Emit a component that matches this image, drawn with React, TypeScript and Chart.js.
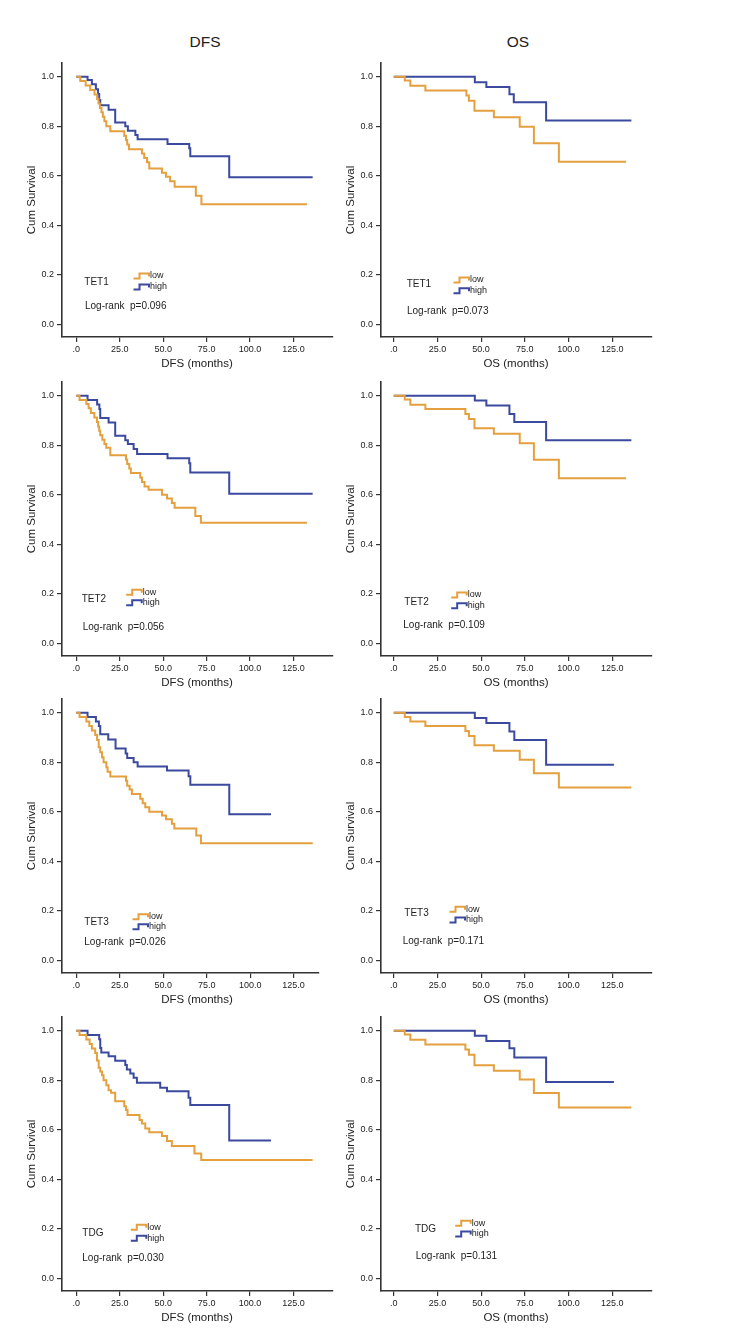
import React, { useEffect, useRef } from "react";
import { Chart, registerables } from "chart.js";

Chart.register(...registerables);

const FONT = '"Liberation Sans", Arial, Helvetica, sans-serif';
const LOW_COLOR = "#E4A03E";
const HIGH_COLOR = "#3B4A9E";
const INK = "#222222";

// ---------- data ----------
const xTickValues = [0, 25, 50, 75, 100, 125];
const yTickValues = [0, 0.2, 0.4, 0.6, 0.8, 1.0];
const columnTitles = ["DFS", "OS"];
const xAxisTitles = ["DFS (months)", "OS (months)"];
const genes = ["TET1", "TET2", "TET3", "TDG"];
const dfsPValues = ["0.096", "0.056", "0.026", "0.030"];
const osPValues = ["0.073", "0.109", "0.171", "0.131"];
const groupLabels = ["low", "high"];

// [months, cumulative survival]
const dfsTet1Low = [[0,1],[2.3,0.982],[5.4,0.964],[8,0.946],[10.5,0.928],[12,0.91],[12.8,0.892],[13.6,0.874],[14.5,0.856],[15.3,0.838],[16.2,0.82],[17.3,0.8],[19.6,0.78],[27.6,0.762],[28.6,0.744],[29.3,0.726],[30.3,0.707],[37.8,0.69],[39.1,0.672],[40.7,0.655],[42,0.63],[49.3,0.612],[51.6,0.596],[54,0.578],[56.6,0.556],[68.8,0.52],[72,0.485],[132.7,0.485]];
const dfsTet1High = [[0,1],[6.5,0.986],[9,0.969],[11.3,0.949],[12.5,0.93],[13.2,0.906],[13.8,0.885],[18.6,0.866],[22.4,0.815],[28.2,0.8],[29.7,0.782],[34,0.765],[35.3,0.747],[52.5,0.728],[65,0.711],[65.6,0.679],[88,0.594],[136,0.594]];
const osTet1Low = [[0,1],[6.3,0.984],[9.5,0.963],[18.1,0.944],[41.6,0.924],[43,0.903],[46.2,0.862],[57.3,0.836],[72.1,0.798],[80.2,0.731],[94.5,0.657],[133,0.657]];
const osTet1High = [[0,1],[46.4,0.977],[53,0.958],[66.2,0.929],[68.7,0.897],[87.2,0.823],[136,0.823]];

const dfsTet2Low = [[0,1],[1.9,0.982],[5.8,0.966],[7.1,0.949],[8.4,0.93],[10.4,0.912],[11.9,0.894],[12.6,0.876],[13.2,0.858],[13.8,0.84],[15,0.822],[16.2,0.805],[17.3,0.79],[19.6,0.76],[28.6,0.742],[29.3,0.724],[30.5,0.706],[31.4,0.688],[36.8,0.67],[37.8,0.652],[39.3,0.634],[41.6,0.62],[49.3,0.6],[52.2,0.585],[55,0.567],[56.6,0.548],[68.5,0.515],[71.7,0.487],[132.7,0.487]];
const dfsTet2High = [[0,1],[6.5,0.982],[12,0.964],[13.3,0.946],[13.8,0.91],[18.6,0.892],[22.4,0.838],[28.2,0.82],[29.7,0.805],[33,0.785],[35,0.765],[52.5,0.747],[65,0.727],[65.6,0.69],[88,0.604],[136,0.604]];
const osTet2Low = [[0,1],[6.3,0.984],[9.5,0.963],[18.1,0.946],[41,0.926],[43,0.906],[46.2,0.868],[57.3,0.846],[72.1,0.808],[80.2,0.741],[94.5,0.667],[133,0.667]];
const osTet2High = [[0,1],[46.4,0.98],[53,0.96],[66.2,0.926],[69,0.894],[87.2,0.82],[136,0.82]];

const dfsTet3Low = [[0,1],[1.9,0.982],[5.8,0.964],[7.5,0.946],[9,0.928],[10.9,0.91],[12,0.89],[12.9,0.86],[13.8,0.84],[14.8,0.82],[15.7,0.8],[17.3,0.78],[18,0.762],[19.6,0.742],[28.6,0.725],[29.3,0.705],[30.7,0.69],[32,0.672],[36.8,0.653],[38.2,0.635],[39.7,0.618],[42,0.6],[49.3,0.585],[51.6,0.57],[55,0.552],[56.4,0.533],[69,0.505],[71.7,0.473],[136,0.473]];
const dfsTet3High = [[0,1],[6.5,0.982],[11.3,0.964],[13,0.946],[13.8,0.913],[18.4,0.892],[22.6,0.855],[28.4,0.835],[29.3,0.817],[33,0.8],[35.3,0.783],[52.2,0.767],[64.6,0.743],[65.6,0.709],[88,0.59],[112,0.59]];
const osTet3Low = [[0,1],[6.3,0.982],[9.5,0.964],[18.1,0.946],[41,0.926],[43,0.906],[46.2,0.868],[57.3,0.846],[72.1,0.81],[80.2,0.756],[94.5,0.698],[136,0.698]];
const osTet3High = [[0,1],[46.4,0.978],[53,0.958],[66.2,0.924],[69,0.89],[87.2,0.79],[126,0.79]];

const dfsTdgLow = [[0,1],[1.9,0.982],[5.8,0.964],[7.7,0.946],[9,0.928],[10.9,0.91],[11.9,0.88],[12.9,0.85],[13.8,0.835],[14.8,0.82],[15.7,0.8],[17.3,0.78],[18.6,0.76],[20,0.75],[22.4,0.715],[27.6,0.695],[28.6,0.68],[29.5,0.66],[36.4,0.64],[37.8,0.625],[39.7,0.605],[42,0.59],[49.3,0.575],[52.2,0.555],[55,0.535],[68,0.505],[71.9,0.478],[136,0.478]];
const dfsTdgHigh = [[0,1],[6.5,0.982],[13.2,0.965],[13.8,0.93],[14.4,0.912],[18.6,0.897],[22.4,0.879],[28.2,0.861],[29.1,0.843],[31.1,0.827],[33,0.81],[34.9,0.79],[48.3,0.77],[52.2,0.756],[64.6,0.729],[65.6,0.7],[88,0.557],[112,0.557]];
const osTdgLow = [[0,1],[6.3,0.984],[9.5,0.963],[18.1,0.944],[41,0.924],[43,0.903],[46.2,0.86],[57.3,0.838],[72.1,0.803],[80.2,0.748],[94.5,0.69],[136,0.69]];
const osTdgHigh = [[0,1],[46.4,0.979],[53,0.958],[66.2,0.929],[69,0.892],[87.2,0.793],[126,0.793]];

// ---------- layout (page pixels) ----------
const ROW_TOPS = [63, 382, 699, 1017];
const COL_LEFTS = [0, 319];
const CANVAS_W = 345;
const PAD_TOP = 10;
const PLOT_H = 274;
const XSCALE_H = 36;
const YSCALE_W = 62;
const X_MIN = [-8.2, -7.3];

type Pt = number[];
interface PanelSpec {
  row: number;
  col: number;
  low: Pt[];
  high: Pt[];
  p: string;
  xMax: number;
  padRight: number;
  legend: { geneX: number; geneY: number; lowX: number; lowY: number; highY: number; logX: number; logY: number };
}

const panels: PanelSpec[] = [
  { row: 0, col: 0, low: dfsTet1Low, high: dfsTet1High, p: dfsPValues[0], xMax: 147.7, padRight: 12,
    legend: { geneX: 84.3, geneY: 282, lowX: 150, lowY: 276, highY: 287, logX: 85, logY: 306 } },
  { row: 0, col: 1, low: osTet1Low, high: osTet1High, p: osPValues[0], xMax: 147.8, padRight: 12,
    legend: { geneX: 406.7, geneY: 284, lowX: 470, lowY: 280, highY: 290.7, logX: 407, logY: 311 } },
  { row: 1, col: 0, low: dfsTet2Low, high: dfsTet2High, p: dfsPValues[1], xMax: 147.7, padRight: 12,
    legend: { geneX: 81.7, geneY: 599.3, lowX: 142.7, lowY: 592.3, highY: 602.7, logX: 82.7, logY: 627.3 } },
  { row: 1, col: 1, low: osTet2Low, high: osTet2High, p: osPValues[1], xMax: 147.8, padRight: 12,
    legend: { geneX: 404.3, geneY: 602.3, lowX: 467.7, lowY: 595, highY: 605.7, logX: 403.3, logY: 625.7 } },
  { row: 2, col: 0, low: dfsTet3Low, high: dfsTet3High, p: dfsPValues[2], xMax: 139.6, padRight: 26,
    legend: { geneX: 84.3, geneY: 922.3, lowX: 149, lowY: 916.7, highY: 926.7, logX: 84.3, logY: 942.7 } },
  { row: 2, col: 1, low: osTet3Low, high: osTet3High, p: osPValues[2], xMax: 147.8, padRight: 12,
    legend: { geneX: 404.3, geneY: 913.3, lowX: 466, lowY: 909.3, highY: 920, logX: 402.7, logY: 941 } },
  { row: 3, col: 0, low: dfsTdgLow, high: dfsTdgHigh, p: dfsPValues[3], xMax: 147.7, padRight: 12,
    legend: { geneX: 82.3, geneY: 1233.3, lowX: 147.3, lowY: 1227.3, highY: 1238.3, logX: 82.3, logY: 1258.3 } },
  { row: 3, col: 1, low: osTdgLow, high: osTdgHigh, p: osPValues[3], xMax: 147.8, padRight: 12,
    legend: { geneX: 415, geneY: 1229.3, lowX: 471.7, lowY: 1223.3, highY: 1234, logX: 415.7, logY: 1256.7 } },
];

function drawIcon(ctx: CanvasRenderingContext2D, textX: number, cy: number, color: string) {
  ctx.save();
  ctx.strokeStyle = color;
  ctx.lineWidth = 2;
  ctx.lineJoin = "miter";
  ctx.beginPath();
  ctx.moveTo(textX - 16.5, cy + 2.5);
  ctx.lineTo(textX - 10.5, cy + 2.5);
  ctx.lineTo(textX - 10.5, cy - 2.5);
  ctx.lineTo(textX - 1, cy - 2.5);
  ctx.lineTo(textX - 1, cy + 0.5);
  ctx.stroke();
  ctx.restore();
}

function Panel({ spec }: { spec: PanelSpec }) {
  const ref = useRef<HTMLCanvasElement | null>(null);
  const left = COL_LEFTS[spec.col];
  const top = ROW_TOPS[spec.row] - PAD_TOP;
  const height = PAD_TOP + PLOT_H + XSCALE_H;

  useEffect(() => {
    if (!ref.current) return;
    const gene = genes[spec.row];
    const xTitle = xAxisTitles[spec.col];
    const lg = spec.legend;

    const annotate = {
      id: "kmAnnotations",
      afterDraw(chart: any) {
        const ctx: CanvasRenderingContext2D = chart.ctx;
        const area = chart.chartArea;
        ctx.save();
        ctx.fillStyle = INK;
        ctx.textBaseline = "middle";
        // x axis title
        ctx.textAlign = "center";
        ctx.font = `11.5px ${FONT}`;
        ctx.fillText(xTitle, 197, area.bottom + 27);
        // gene label + log-rank
        ctx.textAlign = "left";
        ctx.font = `10px ${FONT}`;
        ctx.fillText(gene, lg.geneX - left, lg.geneY - top);
        ctx.fillText(`Log-rank  p=${spec.p}`, lg.logX - left, lg.logY - top);
        // group legend
        ctx.font = `9px ${FONT}`;
        drawIcon(ctx, lg.lowX - left, lg.lowY - top, LOW_COLOR);
        drawIcon(ctx, lg.lowX - left, lg.highY - top, HIGH_COLOR);
        ctx.fillStyle = INK;
        ctx.fillText(groupLabels[0], lg.lowX - left, lg.lowY - top);
        ctx.fillText(groupLabels[1], lg.lowX - left, lg.highY - top);
        ctx.restore();
      },
    };

    const chart = new Chart(ref.current, {
      type: "line",
      data: {
        datasets: [
          {
            label: groupLabels[0],
            data: spec.low.map(([x, y]) => ({ x, y })),
            borderColor: LOW_COLOR,
            borderWidth: 2,
            pointRadius: 0,
            stepped: "before",
            fill: false,
          },
          {
            label: groupLabels[1],
            data: spec.high.map(([x, y]) => ({ x, y })),
            borderColor: HIGH_COLOR,
            borderWidth: 2,
            pointRadius: 0,
            stepped: "before",
            fill: false,
          },
        ],
      },
      options: {
        responsive: false,
        animation: false,
        devicePixelRatio: 1,
        layout: { padding: { top: PAD_TOP, right: spec.padRight, left: 0, bottom: 0 } },
        plugins: { legend: { display: false }, tooltip: { enabled: false } },
        events: [],
        scales: {
          x: {
            type: "linear",
            min: X_MIN[spec.col],
            max: spec.xMax,
            afterBuildTicks: (axis: any) => {
              axis.ticks = xTickValues.map((v) => ({ value: v }));
            },
            afterFit: (axis: any) => {
              axis.height = XSCALE_H;
            },
            ticks: {
              autoSkip: false,
              maxRotation: 0,
              padding: 2,
              color: INK,
              font: { family: FONT, size: 9 },
              callback: (v: any) => (Number(v) === 0 ? ".0" : Number(v).toFixed(1)),
            },
            grid: { display: true, drawOnChartArea: false, drawTicks: true, tickLength: 5, color: "#333", lineWidth: 1.2 },
            border: { display: true, color: "#333", width: 1.6 },
            title: { display: false },
          },
          y: {
            type: "linear",
            min: -0.05,
            max: 1.055,
            afterBuildTicks: (axis: any) => {
              axis.ticks = yTickValues.map((v) => ({ value: v }));
            },
            afterFit: (axis: any) => {
              axis.width = YSCALE_W;
            },
            ticks: {
              autoSkip: false,
              padding: 3,
              color: INK,
              font: { family: FONT, size: 9 },
              callback: (v: any) => Number(v).toFixed(1),
            },
            grid: { display: true, drawOnChartArea: false, drawTicks: true, tickLength: 5, color: "#333", lineWidth: 1.2 },
            border: { display: true, color: "#333", width: 1.6 },
            title: {
              display: true,
              text: "Cum Survival",
              color: INK,
              font: { family: FONT, size: 11.5 },
              padding: { top: 24.5, bottom: 0 },
            },
          },
        },
      },
      plugins: [annotate],
    } as any);

    return () => chart.destroy();
  }, [spec]);

  return (
    <canvas
      ref={ref}
      width={CANVAS_W}
      height={height}
      style={{ position: "absolute", left, top, width: CANVAS_W, height }}
    />
  );
}

export default function App() {
  const headerCenters = [205, 518];
  return (
    <div style={{ position: "absolute", left: 0, top: 0, width: 733, height: 1337, background: "#fff", overflow: "hidden" }}>
      {columnTitles.map((t, i) => (
        <div
          key={t}
          style={{
            position: "absolute",
            left: headerCenters[i] - 50,
            top: 32,
            width: 100,
            height: 20,
            lineHeight: "20px",
            textAlign: "center",
            fontFamily: FONT,
            fontSize: 15.5,
            color: INK,
          }}
        >
          {t}
        </div>
      ))}
      {panels.map((p, i) => (
        <Panel key={i} spec={p} />
      ))}
    </div>
  );
}
